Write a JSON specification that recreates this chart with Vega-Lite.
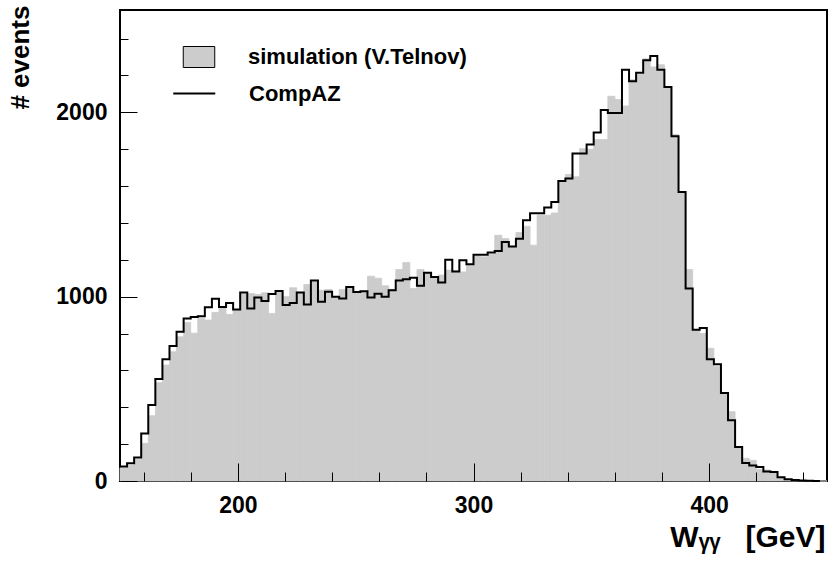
{
  "$schema": "https://vega.github.io/schema/vega-lite/v6.json",
  "width": 707,
  "height": 471,
  "autosize": {"type": "none"},
  "padding": {"left": 120, "top": 10, "right": 2, "bottom": 84},
  "background": "white",
  "config": {
    "view": {"stroke": "black", "strokeWidth": 2},
    "font": "Liberation Sans",
    "axis": {"labelFont": "Liberation Sans", "titleFont": "Liberation Sans", "labelFontWeight": "bold", "titleFontWeight": "bold", "labelColor": "black", "titleColor": "black", "tickColor": "black", "grid": false, "domain": false},
    "legend": {"labelFont": "Liberation Sans", "labelFontWeight": "bold", "labelFontSize": 22, "labelColor": "black", "labelLimit": 0, "title": null, "orient": "none"}
  },
  "data": {"values": [
    {"lo":150,"hi":153,"sim":72,"compaz":78},{"lo":153,"hi":156,"sim":85,"compaz":96},{"lo":156,"hi":159,"sim":118,"compaz":128},{"lo":159,"hi":162,"sim":204,"compaz":258},{"lo":162,"hi":165,"sim":354,"compaz":412},
    {"lo":165,"hi":168,"sim":533,"compaz":553},{"lo":168,"hi":171,"sim":629,"compaz":660},{"lo":171,"hi":174,"sim":701,"compaz":733},{"lo":174,"hi":177,"sim":782,"compaz":809},{"lo":177,"hi":180,"sim":860,"compaz":882},
    {"lo":180,"hi":183,"sim":802,"compaz":890},{"lo":183,"hi":186,"sim":882,"compaz":894},{"lo":186,"hi":189,"sim":873,"compaz":942},{"lo":189,"hi":192,"sim":914,"compaz":988},{"lo":192,"hi":195,"sim":941,"compaz":944},
    {"lo":195,"hi":198,"sim":903,"compaz":966},{"lo":198,"hi":201,"sim":930,"compaz":930},{"lo":201,"hi":204,"sim":1015,"compaz":1022},{"lo":204,"hi":207,"sim":1017,"compaz":936},{"lo":207,"hi":210,"sim":1012,"compaz":995},
    {"lo":210,"hi":213,"sim":1021,"compaz":976},{"lo":213,"hi":216,"sim":909,"compaz":1015},{"lo":216,"hi":219,"sim":1031,"compaz":1031},{"lo":219,"hi":222,"sim":1000,"compaz":955},{"lo":222,"hi":225,"sim":1048,"compaz":965},
    {"lo":225,"hi":228,"sim":1024,"compaz":1022},{"lo":228,"hi":231,"sim":1066,"compaz":958},{"lo":231,"hi":234,"sim":1080,"compaz":1088},{"lo":234,"hi":237,"sim":1035,"compaz":973},{"lo":237,"hi":240,"sim":1039,"compaz":1026},
    {"lo":240,"hi":243,"sim":999,"compaz":999},{"lo":243,"hi":246,"sim":1039,"compaz":990},{"lo":246,"hi":249,"sim":1045,"compaz":1053},{"lo":249,"hi":252,"sim":1025,"compaz":1025},{"lo":252,"hi":255,"sim":1025,"compaz":1030},
    {"lo":255,"hi":258,"sim":1111,"compaz":995},{"lo":258,"hi":261,"sim":1100,"compaz":1016},{"lo":261,"hi":264,"sim":1059,"compaz":999},{"lo":264,"hi":267,"sim":1040,"compaz":1035},{"lo":267,"hi":270,"sim":1147,"compaz":1088},
    {"lo":270,"hi":273,"sim":1185,"compaz":1095},{"lo":273,"hi":276,"sim":1044,"compaz":1103},{"lo":276,"hi":279,"sim":1147,"compaz":1059},{"lo":279,"hi":282,"sim":1126,"compaz":1130},{"lo":282,"hi":285,"sim":1104,"compaz":1107},
    {"lo":285,"hi":288,"sim":1117,"compaz":1077},{"lo":288,"hi":291,"sim":1144,"compaz":1200},{"lo":291,"hi":294,"sim":1140,"compaz":1136},{"lo":294,"hi":297,"sim":1134,"compaz":1198},{"lo":297,"hi":300,"sim":1171,"compaz":1176},
    {"lo":300,"hi":303,"sim":1220,"compaz":1227},{"lo":303,"hi":306,"sim":1216,"compaz":1227},{"lo":306,"hi":309,"sim":1230,"compaz":1239},{"lo":309,"hi":312,"sim":1333,"compaz":1248},{"lo":312,"hi":315,"sim":1315,"compaz":1297},
    {"lo":315,"hi":318,"sim":1270,"compaz":1272},{"lo":318,"hi":321,"sim":1348,"compaz":1314},{"lo":321,"hi":324,"sim":1382,"compaz":1415},{"lo":324,"hi":327,"sim":1279,"compaz":1452},{"lo":327,"hi":330,"sim":1442,"compaz":1452},
    {"lo":330,"hi":333,"sim":1442,"compaz":1483},{"lo":333,"hi":336,"sim":1454,"compaz":1513},{"lo":336,"hi":339,"sim":1622,"compaz":1628},{"lo":339,"hi":342,"sim":1662,"compaz":1641},{"lo":342,"hi":345,"sim":1650,"compaz":1776},
    {"lo":345,"hi":348,"sim":1803,"compaz":1776},{"lo":348,"hi":351,"sim":1800,"compaz":1825},{"lo":351,"hi":354,"sim":1852,"compaz":1891},{"lo":354,"hi":357,"sim":1852,"compaz":2013},{"lo":357,"hi":360,"sim":2087,"compaz":1996},
    {"lo":360,"hi":363,"sim":2069,"compaz":1996},{"lo":363,"hi":366,"sim":2034,"compaz":2231},{"lo":366,"hi":369,"sim":2177,"compaz":2168},{"lo":369,"hi":372,"sim":2205,"compaz":2215},{"lo":372,"hi":375,"sim":2290,"compaz":2282},
    {"lo":375,"hi":378,"sim":2246,"compaz":2305},{"lo":378,"hi":381,"sim":2258,"compaz":2231},{"lo":381,"hi":384,"sim":2137,"compaz":2137},{"lo":384,"hi":387,"sim":1880,"compaz":1870},{"lo":387,"hi":390,"sim":1570,"compaz":1568},
    {"lo":390,"hi":393,"sim":1147,"compaz":1044},{"lo":393,"hi":396,"sim":820,"compaz":820},{"lo":396,"hi":399,"sim":800,"compaz":830},{"lo":399,"hi":402,"sim":720,"compaz":660},{"lo":402,"hi":405,"sim":622,"compaz":633},
    {"lo":405,"hi":408,"sim":477,"compaz":477},{"lo":408,"hi":411,"sim":376,"compaz":329},{"lo":411,"hi":414,"sim":184,"compaz":185},{"lo":414,"hi":417,"sim":123,"compaz":97},{"lo":417,"hi":420,"sim":112,"compaz":84},
    {"lo":420,"hi":423,"sim":63,"compaz":76},{"lo":423,"hi":426,"sim":60,"compaz":51},{"lo":426,"hi":429,"sim":45,"compaz":49},{"lo":429,"hi":432,"sim":18,"compaz":21},{"lo":432,"hi":435,"sim":8,"compaz":10},
    {"lo":435,"hi":438,"sim":4,"compaz":5},{"lo":438,"hi":441,"sim":2,"compaz":3},{"lo":441,"hi":444,"sim":1,"compaz":1},{"lo":444,"hi":447,"sim":0,"compaz":0},{"lo":447,"hi":450,"sim":0,"compaz":0}
  ]},
  "encoding": {
    "x": {"field": "lo", "type": "quantitative",
      "scale": {"domain": [150, 450], "nice": false, "zero": false},
      "axis": {
        "zindex": 1,
        "values": [160,180,200,220,240,260,280,300,320,340,360,380,400,420,440],
        "labelExpr": "datum.value % 100 === 0 ? datum.label : ''",
        "tickSize": {"condition": {"test": "datum.value % 100 === 0", "value": -18}, "value": -9},
        "tickWidth": 1,
        "labelFontSize": 23,
        "labelPadding": 31,
        "title": "Wᵧᵧ\u00a0\u00a0\u00a0[GeV]",
        "titleFontSize": 30,
        "titleAnchor": "end",
        "titleAlign": "right",
        "titleX": 705,
        "titleY": 65,
        "titleBaseline": "alphabetic"
      }
    },
    "y": {"field": "sim", "type": "quantitative",
      "scale": {"domain": [0, 2555], "nice": false},
      "axis": {
        "zindex": 1,
        "values": [0,200,400,600,800,1000,1200,1400,1600,1800,2000,2200,2400],
        "labelExpr": "datum.value % 1000 === 0 ? datum.value : ''",
        "tickSize": {"condition": {"test": "datum.value % 1000 === 0", "value": -17}, "value": -8},
        "tickWidth": 1,
        "labelFontSize": 23,
        "labelPadding": 30,
        "title": "# events",
        "titleFontSize": 26,
        "titleAngle": -90,
        "titleAlign": "right",
        "titleBaseline": "middle",
        "titleX": -100,
        "titleY": -5
      }
    }
  },
  "layer": [
    {
      "mark": {"type": "rect", "stroke": "#cccccc", "strokeWidth": 0.8, "opacity": 1},
      "encoding": {
        "x2": {"field": "hi"},
        "y2": {"datum": 0},
        "fill": {"datum": "simulation (V.Telnov)", "type": "nominal",
          "scale": {"range": ["#cccccc"]},
          "legend": {
            "legendX": 68, "legendY": 36,
            "symbolSize": 441, "symbolType": "M-1.5,-1H1.5V1H-1.5Z",
            "symbolStrokeColor": "black", "symbolStrokeWidth": 1, "symbolOpacity": 1,
            "labelOffset": 38,
            "encode": {"symbols": {"update": {"stroke": {"value": "black"}, "strokeWidth": {"value": 1}}}}
          }
        }
      }
    },
    {
      "mark": {"type": "line", "interpolate": "step-after", "strokeWidth": 2},
      "encoding": {
        "y": {"field": "compaz", "type": "quantitative"},
        "stroke": {"datum": "CompAZ", "type": "nominal",
          "scale": {"range": ["#000000"]},
          "legend": {
            "legendX": 68, "legendY": 72,
            "symbolSize": 441, "symbolType": "M-2.5,0H1.5",
            "symbolStrokeWidth": 2, "symbolOpacity": 1,
            "labelOffset": 38
          }
        }
      }
    }
  ]
}
